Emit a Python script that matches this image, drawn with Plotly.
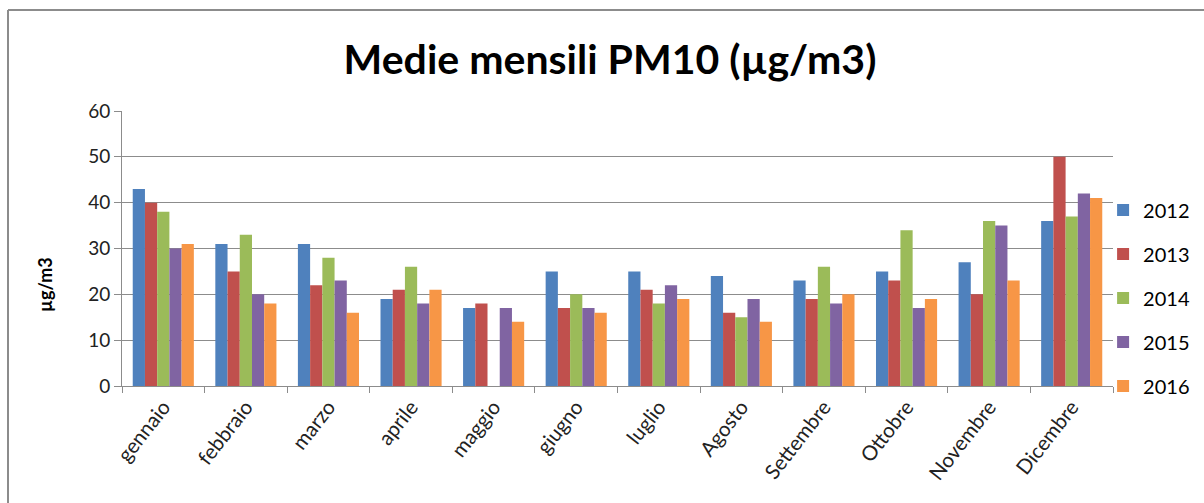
import plotly.graph_objects as go

months = ["gennaio", "febbraio", "marzo", "aprile", "maggio", "giugno",
          "luglio", "Agosto", "Settembre", "Ottobre", "Novembre", "Dicembre"]
y2012 = [43, 31, 31, 19, 17, 25, 25, 24, 23, 25, 27, 36]
y2013 = [40, 25, 22, 21, 18, 17, 21, 16, 19, 23, 20, 50]
y2014 = [38, 33, 28, 26, None, 20, 18, 15, 26, 34, 36, 37]
y2015 = [30, 20, 23, 18, 17, 17, 22, 19, 18, 17, 35, 42]
y2016 = [31, 18, 16, 21, 14, 16, 19, 14, 20, 19, 23, 41]

series = [("2012", y2012, "#4F81BD"), ("2013", y2013, "#C0504D"),
          ("2014", y2014, "#9BBB59"), ("2015", y2015, "#8064A2"),
          ("2016", y2016, "#F79646")]

FONT = "Lato, 'Open Sans', sans-serif"

fig = go.Figure()
for i, (name, vals, col) in enumerate(series):
    fig.add_trace(go.Bar(x=months, y=vals, name=name, marker_color=col,
                         marker_line_width=0, legendgroup=str(i)))

W, H = 1204, 503
L, R, T, B = 122, 91, 111, 117
pw, ph = W - L - R, H - T - B

fig.update_layout(
    width=W, height=H,
    margin=dict(l=L, r=R, t=T, b=B, autoexpand=False),
    paper_bgcolor="white", plot_bgcolor="white",
    font=dict(family=FONT, color="#000000", size=18),
    title=dict(text="<b>Medie mensili PM10 (µg/m3)</b>", x=610 / W, xanchor="center",
               y=1 - 60 / H, yanchor="middle", font=dict(size=41, family=FONT)),
    barmode="group", bargap=0.26, bargroupgap=0,
    legend=dict(x=0.990, xanchor="left", y=(386 - 298) / ph, yanchor="middle",
                font=dict(size=20, family=FONT), tracegroupgap=15,
                itemwidth=30, bgcolor="rgba(0,0,0,0)"),
    showlegend=True,
)
fig.update_yaxes(range=[0, 60], dtick=10, showgrid=True, gridcolor="#8C8C8C",
                 gridwidth=1, showline=True, linecolor="#8C8C8C", ticks="outside",
                 ticklen=7, tickcolor="#8C8C8C", tickfont=dict(size=19, color="#222"),
                 automargin=False, zeroline=False)
fig.update_xaxes(showline=True, linecolor="#8C8C8C", ticks="outside", ticklen=6,
                 tickcolor="#8C8C8C", tickson="boundaries", tickangle=-52,
                 automargin=False, tickfont=dict(size=20.5, color="#222"))

# y-axis title placed as annotation (it sits below the axis centre in the reference)
fig.add_annotation(text="<b>µg/m3</b>", xref="paper", yref="paper",
                   x=-(L - 45) / pw, y=(386 - 285) / ph, textangle=-90,
                   showarrow=False, font=dict(size=18, family=FONT),
                   xanchor="center", yanchor="middle")

# outer chart border: only top and left edges are visible in the reference
def px_x(p):
    return (p - L) / pw

def px_y(p):
    return (H - B - p) / ph

fig.add_shape(type="line", xref="paper", yref="paper",
              x0=px_x(8), x1=px_x(W + 5), y0=px_y(10), y1=px_y(10),
              line=dict(color="#8C8C8C", width=2), layer="below")
fig.add_shape(type="line", xref="paper", yref="paper",
              x0=px_x(8), x1=px_x(8), y0=px_y(10), y1=px_y(H + 5),
              line=dict(color="#8C8C8C", width=2), layer="below")

fig.write_html("out.html", config={"displayModeBar": False},
               post_script="document.body.style.margin='0';")
